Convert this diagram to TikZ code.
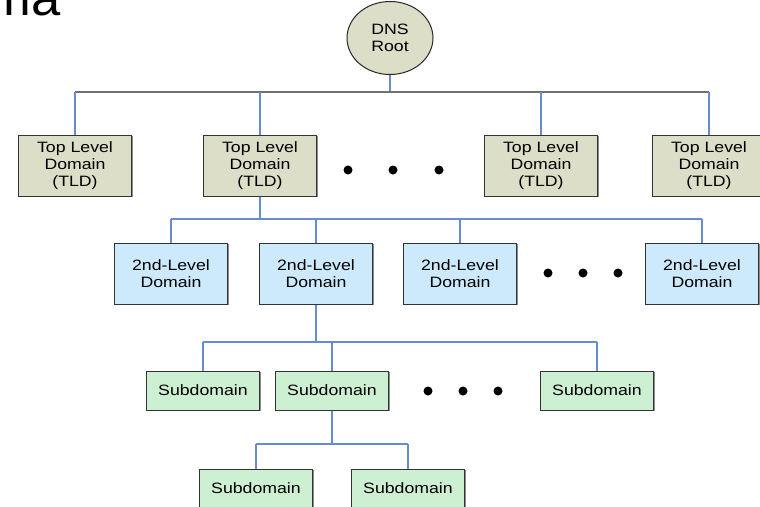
\documentclass[tikz,border=0pt]{standalone}
\usepackage{fontspec}
\setmainfont[FakeStretch=1.18]{Liberation Sans}
\newfontfamily\titlefont[FakeStretch=1.05]{Liberation Sans}
\usetikzlibrary{shapes.geometric,shadows}

\definecolor{tldfill}{RGB}{220,222,200}
\definecolor{sldfill}{RGB}{204,234,252}
\definecolor{subfill}{RGB}{206,240,210}
\definecolor{busgray}{RGB}{112,112,112}
\definecolor{linkblue}{RGB}{104,140,210}

\tikzset{
  box/.style={draw=black!80, line width=1pt, minimum width=113pt, align=center,
    inner sep=0pt, font=\fontsize{15}{17}\selectfont,
    drop shadow={shadow xshift=1.3pt, shadow yshift=-1.3pt, fill=black!45, opacity=1}},
  tldbox/.style={box, fill=tldfill, minimum height=61pt},
  sldbox/.style={box, fill=sldfill, minimum height=61pt},
  subbox/.style={box, fill=subfill, minimum height=39pt},
  rootnode/.style={ellipse, draw=black!85, line width=1pt, fill=tldfill,
    minimum width=86pt, minimum height=73pt, inner sep=0pt, align=center,
    font=\fontsize{15}{17}\selectfont},
  dotmark/.style={circle, fill=black, inner sep=0pt, minimum size=9pt},
  link/.style={draw=linkblue, line width=1.5pt},
  trunk/.style={draw=linkblue, line width=2pt},
  graybus/.style={draw=busgray, line width=1.6pt},
}

\begin{document}
\begin{tikzpicture}[x=1pt,y=-1pt]
\useasboundingbox (0,0) rectangle (760,506);
\clip (0,0) rectangle (760,506);

% heading, cut off by the top and left edges
\node[anchor=base east, inner sep=0pt, font=\titlefont\fontsize{50}{50}\selectfont] (heading) at (61,15) {ma};

% bus junctions
\coordinate (busT) at (390,92);
\coordinate (busS) at (260,219);
\coordinate (busD) at (316,342);
\coordinate (busE) at (332,444);

% root
\node[rootnode] (root) at (390,38) {DNS\\Root};

% top level domains
\node[tldbox] (tld1) at (75,165.5) {Top Level\\Domain\\(TLD)};
\node[tldbox] (tld2) at (260,165.5) {Top Level\\Domain\\(TLD)};
\node[tldbox] (tld3) at (541,165.5) {Top Level\\Domain\\(TLD)};
\node[tldbox] (tld4) at (709,165.5) {Top Level\\Domain\\(TLD)};
\node[dotmark] (ta) at (348,170) {};
\node[dotmark] (tb) at (393,170) {};
\node[dotmark] (tc) at (439,170) {};

% second level domains
\node[sldbox] (sld1) at (171,273.5) {2nd-Level\\Domain};
\node[sldbox] (sld2) at (316,273.5) {2nd-Level\\Domain};
\node[sldbox] (sld3) at (460,273.5) {2nd-Level\\Domain};
\node[sldbox] (sld4) at (702,273.5) {2nd-Level\\Domain};
\node[dotmark] (sa) at (548,273) {};
\node[dotmark] (sb) at (583,273) {};
\node[dotmark] (sc) at (618,273) {};

% subdomains
\node[subbox] (sub1) at (203,390.5) {Subdomain};
\node[subbox] (sub2) at (332,390.5) {Subdomain};
\node[subbox] (sub3) at (597,390.5) {Subdomain};
\node[dotmark] (da) at (428,391) {};
\node[dotmark] (db) at (463,391) {};
\node[dotmark] (dc) at (498,391) {};

% subdomains of a subdomain
\node[subbox] (subA) at (256,488.5) {Subdomain};
\node[subbox] (subB) at (408,488.5) {Subdomain};

% root to top level domains
\draw[link] (root) -- (busT);
\draw[graybus] (busT -| tld1) -- (busT -| tld4);
\foreach \n in {tld1,tld2,tld3,tld4} \draw[link] (busT -| \n) -- (\n);

% top level domain to second level domains
\draw[trunk] (tld2) -- (busS);
\draw[trunk] (busS -| sld1) -- (busS -| sld4);
\foreach \n in {sld1,sld2,sld3,sld4} \draw[link] (busS -| \n) -- (\n);

% second level domain to subdomains
\draw[trunk] (sld2) -- (busD);
\draw[trunk] (busD -| sub1) -- (busD -| sub3);
\foreach \n in {sub1,sub2,sub3} \draw[link] (busD -| \n) -- (\n);

% subdomain to its own subdomains
\draw[trunk] (sub2) -- (busE);
\draw[trunk] (busE -| subA) -- (busE -| subB);
\foreach \n in {subA,subB} \draw[link] (busE -| \n) -- (\n);
\end{tikzpicture}
\end{document}
